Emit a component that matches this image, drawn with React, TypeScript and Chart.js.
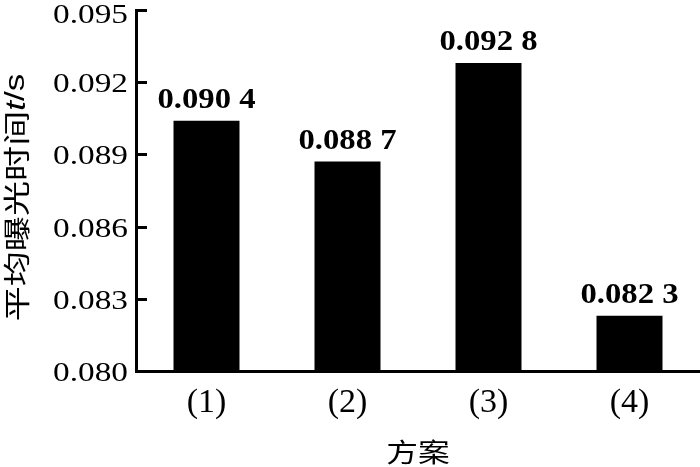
import React, { useEffect, useRef } from 'react';
import { Chart, registerables } from 'chart.js';

Chart.register(...registerables);

const categories = ['(1)', '(2)', '(3)', '(4)'];
const exposureTimes = [0.0904, 0.0887, 0.0928, 0.0823];
const yTickValues = [0.080, 0.083, 0.086, 0.089, 0.092, 0.095];
const yTitleMain = '平均曝光时间';
const yTitleVar = 't';
const yTitleUnit = '/s';
const xTitle = '方案';

const fmtLabel = (v: number) => {
  const s = v.toFixed(4);
  return s.slice(0, 5) + ' ' + s.slice(5);
};

const decorPlugin = {
  id: 'decor',
  afterDraw(chart: any) {
    const { ctx, chartArea, scales } = chart;
    const y = scales.y;
    const x = scales.x;
    ctx.save();
    // inward tick marks and tick labels on y axis
    ctx.strokeStyle = '#000';
    ctx.fillStyle = '#000';
    ctx.lineWidth = 3;
    y.ticks.forEach((t: any) => {
      const py = Math.round(y.getPixelForValue(t.value)) + 0.5;
      ctx.beginPath();
      ctx.moveTo(chartArea.left, py);
      ctx.lineTo(chartArea.left + 11, py);
      ctx.stroke();
      ctx.save();
      ctx.font = '28px "Liberation Serif"';
      ctx.textAlign = 'right';
      ctx.textBaseline = 'alphabetic';
      ctx.translate(chartArea.left - 8, Math.max(py + 9.5, 23));
      ctx.scale(1.19, 1);
      ctx.fillText(Number(t.value).toFixed(3), 0, 0);
      ctx.restore();
    });
    // value labels
    const meta = chart.getDatasetMeta(0);
    ctx.font = 'bold 30px "Liberation Serif"';
    ctx.textAlign = 'center';
    ctx.textBaseline = 'alphabetic';
    meta.data.forEach((el: any, i: number) => {
      ctx.save();
      ctx.translate(el.x, el.y - 13);
      ctx.scale(1.09, 1);
      ctx.fillText(fmtLabel(exposureTimes[i]), 0, 0);
      ctx.restore();
    });
    // y title (mixed fonts)
    const fMain = '27px "Noto Sans CJK SC"';
    const fVar = 'italic 27px "Liberation Sans"';
    const fUnit = '27px "Liberation Sans"';
    ctx.font = fMain;
    const w1 = ctx.measureText(yTitleMain).width;
    ctx.font = fVar;
    const w2 = ctx.measureText(yTitleVar).width;
    ctx.font = fUnit;
    const w3 = ctx.measureText(yTitleUnit).width;
    const total = w1 + w2 + w3;
    const cy = (chartArea.top + chartArea.bottom) / 2 + 7;
    ctx.save();
    ctx.translate(17, cy);
    ctx.rotate(-Math.PI / 2);
    ctx.scale(1.3, 1);
    ctx.textAlign = 'left';
    ctx.textBaseline = 'middle';
    let cx = -total / 2;
    ctx.font = fMain;
    ctx.fillText(yTitleMain, cx, 0);
    cx += w1;
    ctx.font = fVar;
    ctx.fillText(yTitleVar, cx, 0);
    cx += w2;
    ctx.font = fUnit;
    ctx.fillText(yTitleUnit, cx, 0);
    ctx.restore();
    // x title
    ctx.save();
    const xc = (x.getPixelForValue(0) + x.getPixelForValue(categories.length - 1)) / 2;
    ctx.translate(xc, chartArea.bottom + 81);
    ctx.scale(1.22, 1);
    ctx.font = '26px "Noto Sans CJK SC"';
    ctx.textAlign = 'center';
    ctx.textBaseline = 'middle';
    ctx.fillText(xTitle, 0, 0);
    ctx.restore();
    ctx.restore();
  },
};

export default function App() {
  const ref = useRef<HTMLCanvasElement | null>(null);
  useEffect(() => {
    if (!ref.current) return;
    const chart = new Chart(ref.current, {
      type: 'bar',
      data: {
        labels: categories,
        datasets: [
          {
            data: exposureTimes,
            backgroundColor: '#000',
            borderWidth: 0,
            categoryPercentage: 1,
            barPercentage: 0.468,
          },
        ],
      },
      options: {
        animation: false,
        responsive: true,
        maintainAspectRatio: false,
        layout: { padding: { top: 10, right: 0, bottom: 0, left: 0 } },
        plugins: { legend: { display: false }, tooltip: { enabled: false }, title: { display: false } },
        scales: {
          x: {
            type: 'category',
            offset: true,
            grid: { display: true, drawOnChartArea: false, drawTicks: false, color: 'rgba(0,0,0,0)' },
            border: { display: true, color: '#000', width: 3 },
            ticks: {
              color: '#000',
              padding: 12,
              maxRotation: 0,
              font: { family: '"Liberation Serif"', size: 34 },
            },
            afterFit: (s: any) => {
              s.height = 96;
              s.paddingLeft = 0;
              s.paddingRight = 0;
            },
          },
          y: {
            type: 'linear',
            min: 0.08,
            max: 0.095,
            grid: { display: true, drawOnChartArea: false, drawTicks: false, color: 'rgba(0,0,0,0)' },
            border: { display: true, color: '#000', width: 3 },
            ticks: { display: false },
            afterBuildTicks: (s: any) => {
              s.ticks = yTickValues.map((v) => ({ value: v }));
            },
            afterFit: (s: any) => {
              s.width = 136;
              s.paddingTop = 0;
              s.paddingBottom = 0;
            },
          },
        },
      },
      plugins: [decorPlugin],
    });
    return () => chart.destroy();
  }, []);
  return (
    <div style={{ position: 'fixed', left: 0, top: 0, width: 700, height: 467, background: '#fff' }}>
      <canvas ref={ref} />
    </div>
  );
}
